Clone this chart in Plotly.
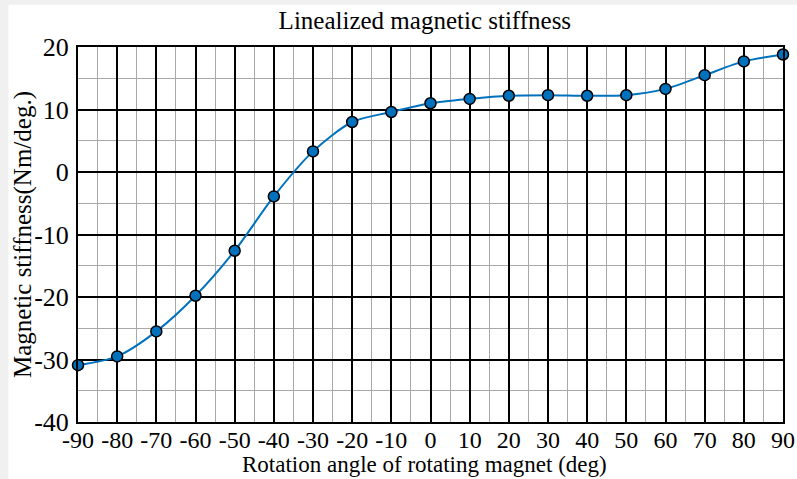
import plotly.graph_objects as go

# Rotation angle of the rotating magnet (deg)
angles = [-90, -80, -70, -60, -50, -40, -30, -20, -10, 0,
          10, 20, 30, 40, 50, 60, 70, 80, 90]
# Linearized magnetic stiffness (Nm/deg.)
stiffness = [-30.9, -29.5, -25.5, -19.8, -12.6, -3.9, 3.3, 8.0, 9.6, 11.0,
             11.7, 12.2, 12.3, 12.2, 12.3, 13.3, 15.5, 17.7, 18.8]

x_ticks = list(range(-90, 91, 10))
y_ticks = list(range(-40, 21, 10))

FONT = "Liberation Serif, Times New Roman, serif"
BLUE = "#0072BD"


def label(v):
    # plain hyphen for negative numbers
    return str(v)


fig = go.Figure()
fig.add_trace(go.Scatter(
    x=angles, y=stiffness,
    mode="lines+markers",
    line=dict(color=BLUE, width=2, shape="spline", smoothing=0.8),
    marker=dict(size=11, color=BLUE, line=dict(color="black", width=1.5)),
    showlegend=False,
    cliponaxis=False,
))

axis_common = dict(
    showline=True, linecolor="black", linewidth=2, mirror=True,
    showgrid=True, gridcolor="black", gridwidth=1.5,
    zeroline=False, ticks="", automargin=False,
)

fig.update_xaxes(
    range=[-90, 90], tickmode="array", tickvals=x_ticks,
    ticktext=[label(v) for v in x_ticks],
    tickfont=dict(family=FONT, size=24, color="black"),
    minor=dict(tickmode="linear", tick0=-90, dtick=5, showgrid=True,
               gridcolor="#a8a8a8", gridwidth=1),
    ticklabelstandoff=-5,
    **axis_common,
)
fig.update_yaxes(
    range=[-40, 20], tickmode="array", tickvals=y_ticks,
    ticktext=[label(v) for v in y_ticks],
    tickfont=dict(family=FONT, size=26, color="black"),
    minor=dict(tickmode="linear", tick0=-40, dtick=5, showgrid=True,
               gridcolor="#a8a8a8", gridwidth=1),
    ticklabelstandoff=2,
    **axis_common,
)

# white figure panel on a light gray window background
fig.add_shape(type="rect", xref="paper", yref="paper",
              x0=-0.0986, x1=1.03, y0=-0.2, y1=1.113,
              fillcolor="white", line_width=0, layer="below")

# axis titles
fig.add_annotation(text="Rotation angle of rotating magnet (deg)",
                   xref="paper", yref="paper", x=0.492, y=-0.1517,
                   xanchor="center", yanchor="bottom", showarrow=False,
                   font=dict(family=FONT, size=23, color="black"))
fig.add_annotation(text="Magnetic stiffness(Nm/deg.)",
                   xref="paper", yref="paper", x=-0.0787, y=0.5,
                   xanchor="center", yanchor="middle", textangle=-90,
                   showarrow=False,
                   font=dict(family=FONT, size=25, color="black"))

fig.update_layout(
    width=797, height=479,
    margin=dict(l=78, r=14, t=47, b=57),
    paper_bgcolor="#f0f0f0",
    plot_bgcolor="white",
    title=dict(text="Linealized magnetic stiffness",
               font=dict(family=FONT, size=25, color="black"),
               x=0.492, xref="paper", xanchor="center",
               y=0.958, yanchor="middle"),
)

fig.write_html("out.html")
